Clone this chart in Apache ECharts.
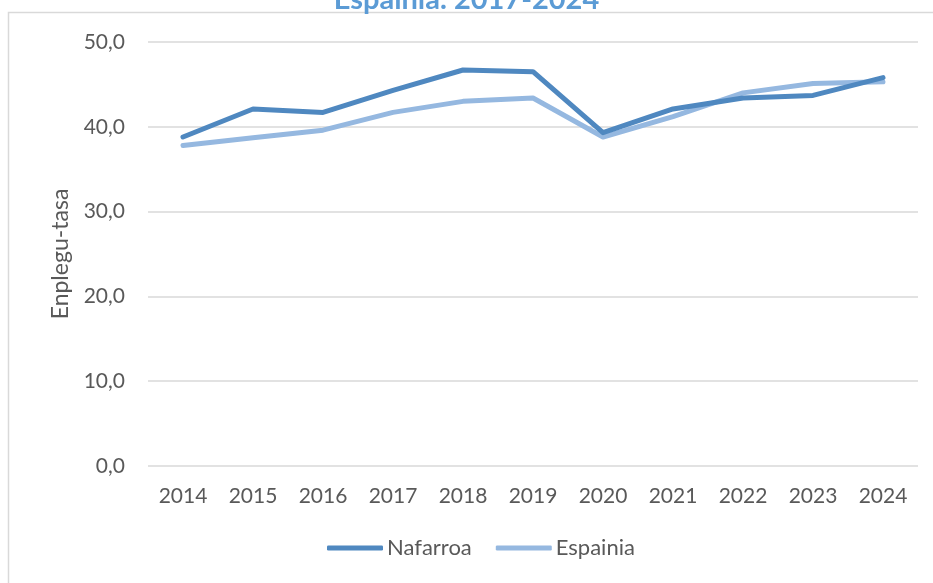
<!DOCTYPE html>
<html>
<head>
<meta charset="utf-8">
<script src="https://cdn.jsdelivr.net/npm/echarts@6/dist/echarts.min.js"></script>
<style>
  html, body { margin: 0; padding: 0; background: #fff; }
  #chart { width: 933px; height: 583px; }
</style>
</head>
<body>
<div id="chart"></div>
<script>
// urteak eta tasak (grafikotik irakurriak)
var years = ["2014", "2015", "2016", "2017", "2018", "2019", "2020", "2021", "2022", "2023", "2024"];
var nafarroa = [38.8, 42.1, 41.7, 44.3, 46.7, 46.5, 39.3, 42.1, 43.4, 43.7, 45.8];
var espainia = [37.8, 38.7, 39.6, 41.7, 43.0, 43.4, 38.8, 41.2, 44.0, 45.1, 45.3];
var yTicks = [0, 10, 20, 30, 40, 50];

var chart = echarts.init(document.getElementById("chart"));

var option = {
  backgroundColor: "#fff",
  animation: false,
  textStyle: { fontFamily: "Lato" },
  title: {
    text: "Espainia. 2017-2024",
    left: "center",
    top: -20,
    textStyle: { color: "#5b9bd5", fontSize: 29, fontWeight: "bold", fontFamily: "Lato" }
  },
  graphic: [
    {
      type: "polyline",
      shape: { points: [[8.5, 600], [8.5, 12.5], [950, 12.5]] },
      style: { stroke: "#d9d9d9", lineWidth: 1.5, fill: null }
    }
  ],
  legend: {
    bottom: 19,
    left: 322,
    itemWidth: 56,
    itemHeight: 5,
    itemGap: 24,
    icon: "roundRect",
    textStyle: { color: "#595959", fontSize: 22, padding: [0, 0, 0, -1] },
    data: ["Nafarroa", "Espainia"]
  },
  grid: { left: 148, right: 15, top: 42, bottom: 117 },
  xAxis: {
    type: "category",
    data: years,
    boundaryGap: true,
    axisLine: { show: false },
    axisTick: { show: false },
    axisLabel: { color: "#595959", fontSize: 21, margin: 20 }
  },
  yAxis: {
    type: "value",
    min: yTicks[0],
    max: yTicks[yTicks.length - 1],
    interval: 10,
    name: "Enplegu-tasa",
    nameLocation: "middle",
    nameGap: 76,
    nameTextStyle: { color: "#595959", fontSize: 23 },
    axisLine: { show: false },
    axisTick: { show: false },
    axisLabel: {
      color: "#595959",
      fontSize: 21,
      margin: 23,
      formatter: function (v) { return v.toFixed(1).replace(".", ","); }
    },
    splitLine: { lineStyle: { color: "#d9d9d9", width: 1.5 } }
  },
  series: [
    {
      name: "Nafarroa",
      type: "line",
      data: nafarroa,
      showSymbol: false,
      symbol: "none",
      color: "#4f88c0",
      lineStyle: { width: 5, color: "#4f88c0", cap: "round", join: "round" },
      z: 3
    },
    {
      name: "Espainia",
      type: "line",
      data: espainia,
      showSymbol: false,
      symbol: "none",
      color: "#95b8e0",
      lineStyle: { width: 5, color: "#95b8e0", cap: "round", join: "round" },
      z: 2
    }
  ]
};

chart.setOption(option);
</script>
</body>
</html>
